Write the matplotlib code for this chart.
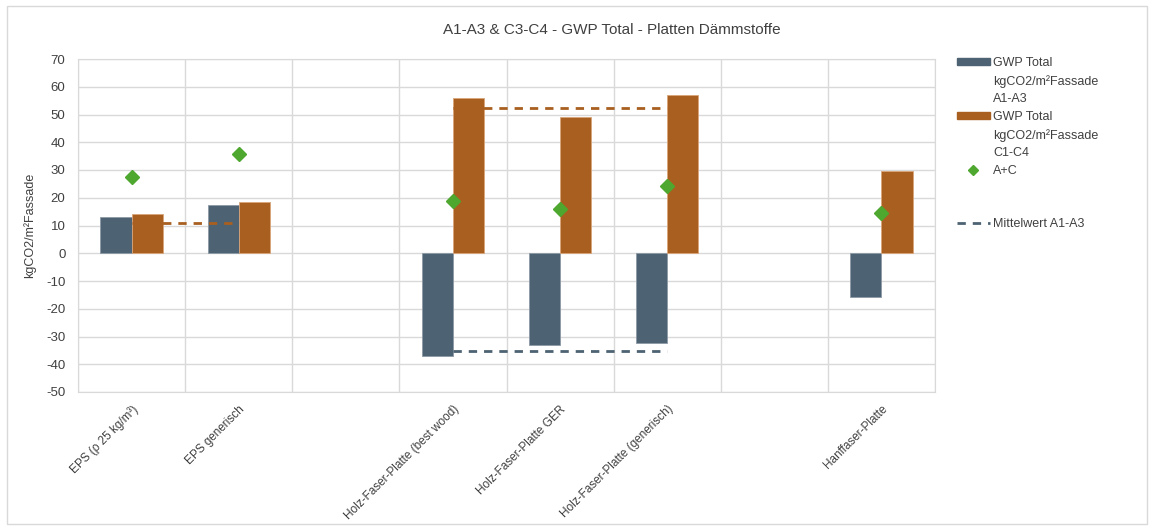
import matplotlib.pyplot as plt
import numpy as np
from matplotlib.lines import Line2D
from matplotlib.patches import Patch

categories = ["EPS (ρ 25 kg/m³)", "EPS generisch", "", "Holz-Faser-Platte (best wood)",
              "Holz-Faser-Platte GER", "Holz-Faser-Platte (generisch)", "", "Hanffaser-Platte"]
a1_a3 = [13.2, 17.3, np.nan, -37.0, -33.2, -32.4, np.nan, -15.6]
c1_c4 = [14.3, 18.4, np.nan, 55.9, 49.2, 57.0, np.nan, 29.8]
a_plus_c = [27.4, 35.7, np.nan, 18.8, 15.8, 24.3, np.nan, 14.4]
# Mittelwert-Linien (Kategorie-Index von/bis, Wert)
mean_a_idx = [3, 5]
mean_a_val = [-35.1, -35.1]
mean_c_eps_idx = [0, 1]
mean_c_eps_val = [10.8, 10.8]
mean_c_hf_idx = [3, 5]
mean_c_hf_val = [52.5, 52.5]

blue = "#4d6272"
orange = "#a85f20"
green = "#4ea72e"
txt = "#404040"

plt.rcParams['font.family'] = ['Liberation Sans', 'DejaVu Sans']
plt.rcParams['axes.unicode_minus'] = False

fig = plt.figure(figsize=(11.55, 5.29), dpi=100)
ax = fig.add_axes([78/1155, 1-392/529, (935-78)/1155, (392-59)/529])

x = np.arange(len(categories))
w = 0.29
ax.bar(x - w/2, a1_a3, w, color=blue, edgecolor="#8c9aa5", linewidth=0.6, zorder=3)
ax.bar(x + w/2, c1_c4, w, color=orange, edgecolor="#d9a57a", linewidth=0.6, zorder=3)
ax.plot(mean_c_eps_idx, mean_c_eps_val, color=orange, lw=2, dashes=(3, 2.5), zorder=4)
ax.plot(mean_c_hf_idx, mean_c_hf_val, color=orange, lw=2, dashes=(3, 2.5), zorder=4)
ax.plot(mean_a_idx, mean_a_val, color=blue, lw=2, dashes=(3, 2.5), zorder=4)
ax.plot(x, a_plus_c, ls="none", marker="D", ms=7, color=green, zorder=5)

ax.set_xlim(-0.5, len(categories) - 0.5)
ax.set_ylim(-50, 70)
ax.set_yticks(np.arange(-50, 71, 10))
ax.set_xticks(x)
ax.set_xticklabels(categories, rotation=45, ha="right", rotation_mode="anchor", fontsize=8.5)
ax.set_xticks(np.arange(-0.5, len(categories), 1), minor=True)
ax.tick_params(axis="both", length=0, which="both", labelsize=9.5, colors=txt)
ax.tick_params(axis="x", labelsize=8.5, pad=8)
ax.tick_params(axis="y", pad=9)
ax.grid(True, which="minor", axis="x", color="#d9d9d9", lw=1, zorder=0)
ax.grid(True, which="major", axis="y", color="#d9d9d9", lw=1, zorder=0)
for s in ax.spines.values():
    s.set_color("#d9d9d9")
ax.set_ylabel("kgCO2/m²Fassade", fontsize=9, color=txt, labelpad=7)

fig.text(612/1155, 1-30/529, "A1-A3 & C3-C4 - GWP Total - Platten Dämmstoffe",
         ha="center", va="center", fontsize=11, color=txt)

# Legende: eine Zeile pro Eintrag, Symbole an der ersten Zeile ausgerichtet
empty = Line2D([], [], ls="none")
handles = [
    Patch(color=blue), empty, empty,
    Patch(color=orange), empty, empty,
    Line2D([], [], ls="none", marker="D", ms=5, color=green),
    empty, empty,
    Line2D([], [], color=blue, lw=2, dashes=(3, 2.5)),
]
labels = ["GWP Total", "kgCO2/m²Fassade", "A1-A3",
          "GWP Total", "kgCO2/m²Fassade", "C1-C4",
          "A+C", " ", " ", "Mittelwert A1-A3"]
leg = fig.legend(handles, labels, loc="upper left", bbox_to_anchor=(952/1155, 1-52/529),
                 frameon=False, fontsize=9, handlelength=2.6, handleheight=0.5,
                 labelspacing=0.46, handletextpad=0.3, borderaxespad=0)
for t in leg.get_texts():
    t.set_color(txt)

border = plt.Rectangle((7/1155, 5/529), 1140/1155, 518/529, transform=fig.transFigure,
                       fill=False, edgecolor="#d9d9d9", lw=1)
fig.patches.append(border)

fig.savefig("out.png", dpi=100)
